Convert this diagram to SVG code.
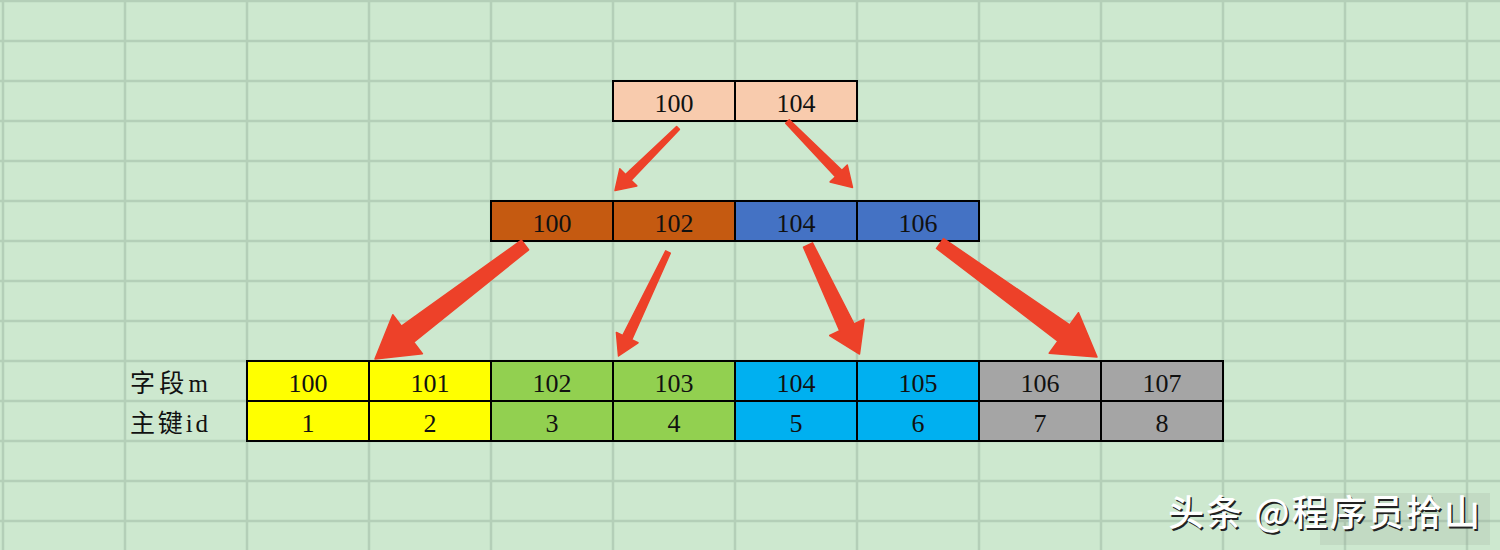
<svg xmlns="http://www.w3.org/2000/svg" width="1500" height="550" viewBox="0 0 1500 550">
<style>
.g{stroke:#b4cfb8;stroke-width:2.5}
.c{stroke:#000;stroke-width:2}
.t{font-family:"Liberation Serif","Noto Sans CJK SC",serif;font-size:26px;fill:#111;text-anchor:middle}
.lab{font-family:"Liberation Serif","Noto Sans CJK SC",serif;font-size:25px;fill:#111}
.ar{fill:#ed4129;stroke:#ed4129;stroke-width:1.5;stroke-linejoin:round}
.wm{font-family:"Noto Sans CJK SC","Noto Sans",sans-serif;font-size:36px;font-weight:500}
</style>
<rect width="1500" height="550" fill="#cde8cf"/>
<g id="grid">
<path class="g" d="M3 0V550M125 0V550M247 0V550M369 0V550M491 0V550M613 0V550M735 0V550M857 0V550M979 0V550M1101 0V550M1223 0V550M1345 0V550M1467 0V550"/>
<path class="g" d="M0 1H1500M0 41H1500M0 81H1500M0 121H1500M0 161H1500M0 201H1500M0 241H1500M0 281H1500M0 321H1500M0 361H1500M0 401H1500M0 441H1500M0 481H1500M0 521H1500"/>
</g>
<g id="root">
<rect class="c" x="613" y="81" width="122" height="40" fill="#f8cbad"/>
<rect class="c" x="735" y="81" width="122" height="40" fill="#f8cbad"/>
<text class="t" x="674" y="111.5">100</text>
<text class="t" x="796" y="111.5">104</text>
</g>
<g id="mid-left">
<rect class="c" x="491" y="201" width="122" height="40" fill="#c55a11"/>
<rect class="c" x="613" y="201" width="122" height="40" fill="#c55a11"/>
<text class="t" x="552" y="231.5">100</text>
<text class="t" x="674" y="231.5">102</text>
</g>
<g id="mid-right">
<rect class="c" x="735" y="201" width="122" height="40" fill="#4472c4"/>
<rect class="c" x="857" y="201" width="122" height="40" fill="#4472c4"/>
<text class="t" x="796" y="231.5">104</text>
<text class="t" x="918" y="231.5">106</text>
</g>
<g id="labels">
<text class="lab" x="130" y="391.5" textLength="78">字段m</text>
<text class="lab" x="130" y="431.5" textLength="78">主键id</text>
</g>
<g id="leaf1">
<rect class="c" x="247" y="361" width="122" height="40" fill="#ffff00"/>
<rect class="c" x="369" y="361" width="122" height="40" fill="#ffff00"/>
<rect class="c" x="247" y="401" width="122" height="40" fill="#ffff00"/>
<rect class="c" x="369" y="401" width="122" height="40" fill="#ffff00"/>
<text class="t" x="308" y="391.5">100</text>
<text class="t" x="430" y="391.5">101</text>
<text class="t" x="308" y="431.5">1</text>
<text class="t" x="430" y="431.5">2</text>
</g>
<g id="leaf2">
<rect class="c" x="491" y="361" width="122" height="40" fill="#92d050"/>
<rect class="c" x="613" y="361" width="122" height="40" fill="#92d050"/>
<rect class="c" x="491" y="401" width="122" height="40" fill="#92d050"/>
<rect class="c" x="613" y="401" width="122" height="40" fill="#92d050"/>
<text class="t" x="552" y="391.5">102</text>
<text class="t" x="674" y="391.5">103</text>
<text class="t" x="552" y="431.5">3</text>
<text class="t" x="674" y="431.5">4</text>
</g>
<g id="leaf3">
<rect class="c" x="735" y="361" width="122" height="40" fill="#00b0f0"/>
<rect class="c" x="857" y="361" width="122" height="40" fill="#00b0f0"/>
<rect class="c" x="735" y="401" width="122" height="40" fill="#00b0f0"/>
<rect class="c" x="857" y="401" width="122" height="40" fill="#00b0f0"/>
<text class="t" x="796" y="391.5">104</text>
<text class="t" x="918" y="391.5">105</text>
<text class="t" x="796" y="431.5">5</text>
<text class="t" x="918" y="431.5">6</text>
</g>
<g id="leaf4">
<rect class="c" x="979" y="361" width="122" height="40" fill="#a5a5a5"/>
<rect class="c" x="1101" y="361" width="122" height="40" fill="#a5a5a5"/>
<rect class="c" x="979" y="401" width="122" height="40" fill="#a5a5a5"/>
<rect class="c" x="1101" y="401" width="122" height="40" fill="#a5a5a5"/>
<text class="t" x="1040" y="391.5">106</text>
<text class="t" x="1162" y="391.5">107</text>
<text class="t" x="1040" y="431.5">7</text>
<text class="t" x="1162" y="431.5">8</text>
</g>
<g id="connectors">
<polygon class="ar" points="676.6,126.6 679.4,129.4 631.1,180.2 636.8,185.9 615,190.5 619.8,168.8 625.5,174.5"/>
<polygon class="ar" points="789.3,119.7 841.9,170.3 847.3,165.1 852.5,187.5 830.1,181.9 835.5,176.7 785.7,123.3"/>
<polygon class="ar" points="521.4,240.2 528.6,249.8 413.7,342.2 422.4,353.7 375,359 392.8,314.7 401.5,326.2"/>
<polygon class="ar" points="665.7,250.9 670.3,253.1 631.7,339.8 638.0,342.8 618.5,356 616.4,332.4 622.7,335.5"/>
<polygon class="ar" points="812.5,242.9 854.1,324.0 864.1,319.3 859.5,354 829.7,335.5 839.7,330.8 803.5,247.1"/>
<polygon class="ar" points="943.5,238.6 1069.7,324.9 1078.5,312.7 1097,357 1049.2,353.3 1057.9,341.1 936.5,248.4"/>
</g>
<g id="watermark">
<rect x="1320" y="493" width="170" height="52" fill="#8f9a90" opacity="0.18"/>
<text class="wm" x="1169.5" y="527.5" fill="#222" textLength="312">头条 @程序员拾山</text>
<text class="wm" x="1168" y="526" fill="#fff" textLength="312">头条 @程序员拾山</text>
</g>
</svg>
